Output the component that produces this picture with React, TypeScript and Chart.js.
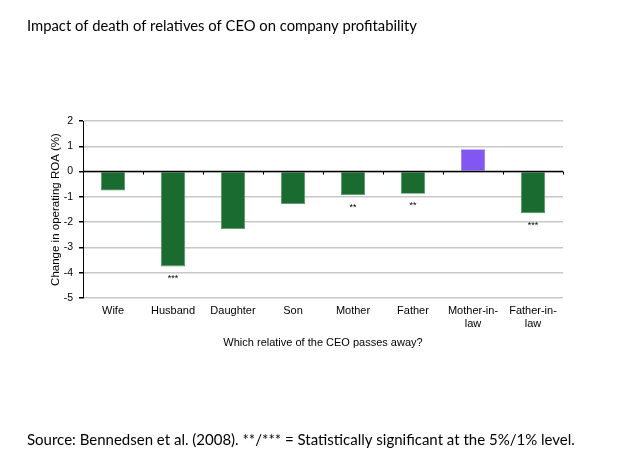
import React, { useEffect, useRef } from "react";
import { Chart, registerables } from "chart.js";

Chart.register(...registerables);

const categories: (string | string[])[] = ["Wife", "Husband", "Daughter", "Son", "Mother", "Father", ["Mother-in-", "law"], ["Father-in-", "law"]];
const roaChange = [-0.75, -3.75, -2.27, -1.28, -0.93, -0.88, 0.88, -1.65];
const significance = ["", "***", "", "", "**", "**", "", "***"];
const barColors = ["#1a6b2f", "#1a6b2f", "#1a6b2f", "#1a6b2f", "#1a6b2f", "#1a6b2f", "#8256f0", "#1a6b2f"];
const yTicks = [2, 1, 0, -1, -2, -3, -4, -5];

const titleText = "Impact of death of relatives of CEO on company profitability";
const sourceText = "Source: Bennedsen et al. (2008). **/*** = Statistically significant at the 5%/1% level.";
const yTitle = "Change in operating ROA (%)";
const xTitle = "Which relative of the CEO passes away?";

const overlayPlugin = {
  id: "overlay",
  afterDatasetsDraw(chart: any) {
    const ctx = chart.ctx;
    const x = chart.scales.x;
    const y = chart.scales.y;
    const area = chart.chartArea;
    const y0 = y.getPixelForValue(0);
    ctx.save();
    // zero line
    ctx.strokeStyle = "#000";
    ctx.lineWidth = 1.5;
    ctx.beginPath();
    ctx.moveTo(area.left, y0);
    ctx.lineTo(area.right, y0);
    ctx.stroke();
    // category boundary ticks
    ctx.lineWidth = 1;
    const n = categories.length;
    const step = x.getPixelForValue(1) - x.getPixelForValue(0);
    for (let i = 0; i < n; i++) {
      const px = Math.round(x.getPixelForValue(i) + step / 2) + 0.5;
      ctx.beginPath();
      ctx.moveTo(px, y0);
      ctx.lineTo(px, y0 + 3);
      ctx.stroke();
    }
    // significance stars
    ctx.fillStyle = "#000";
    ctx.font = "9px 'Liberation Sans', Arial, sans-serif";
    ctx.textAlign = "center";
    ctx.textBaseline = "middle";
    const meta = chart.getDatasetMeta(0);
    significance.forEach((s, i) => {
      if (!s) return;
      const bar = meta.data[i];
      ctx.fillText(s, bar.x, y.getPixelForValue(roaChange[i]) + 12);
    });
    // title and source
    ctx.font = "14.8px Lato, 'Open Sans', sans-serif";
    ctx.textAlign = "left";
    ctx.fillText(titleText, 27, 26);
    ctx.font = "15px Lato, 'Open Sans', sans-serif";
    ctx.fillText(sourceText, 27, 440);
    ctx.restore();
  },
};

export default function App() {
  const ref = useRef<HTMLCanvasElement>(null);
  useEffect(() => {
    if (!ref.current) return;
    const chart = new Chart(ref.current, {
      type: "bar",
      data: {
        labels: categories,
        datasets: [
          {
            data: roaChange,
            backgroundColor: barColors,
            borderColor: barColors.map((c) => (c === "#8256f0" ? "#9a78f5" : "#4f9460")),
            borderWidth: 0.8,
            categoryPercentage: 1,
            barPercentage: 0.4,
          },
        ],
      },
      options: {
        responsive: false,
        animation: false,
        devicePixelRatio: 1,
        layout: { padding: { top: 121, left: 45, right: 63, bottom: 108 } },
        plugins: { legend: { display: false }, tooltip: { enabled: false }, title: { display: false } },
        scales: {
          x: {
            grid: { display: false, drawTicks: false },
            border: { display: false },
            ticks: {
              color: "#000",
              font: { family: "'Liberation Sans', Arial, sans-serif", size: 11, lineHeight: 1.15 },
              maxRotation: 0,
              padding: 7,
            },
            title: {
              display: true,
              text: xTitle,
              color: "#000",
              font: { family: "'Liberation Sans', Arial, sans-serif", size: 11 },
              padding: { top: 5 },
            },
            afterFit(scale: any) {
              scale.height = 56;
            },
          },
          y: {
            min: -5,
            max: 2,
            afterBuildTicks(scale: any) {
              scale.ticks = yTicks.map((v) => ({ value: v }));
            },
            grid: { color: "#c8c8c8", lineWidth: 1.5, tickLength: 4, tickColor: "#000" },
            border: { display: true, color: "#000", width: 1 },
            ticks: {
              color: "#000",
              font: { family: "'Liberation Sans', Arial, sans-serif", size: 10.5 },
              padding: 6,
            },
            title: {
              display: true,
              text: yTitle,
              color: "#000",
              font: { family: "'Liberation Sans', Arial, sans-serif", size: 11.5 },
              padding: { bottom: 4 },
            },
            afterFit(scale: any) {
              scale.width = 38;
            },
          },
        },
      },
      plugins: [overlayPlugin],
    });
    return () => chart.destroy();
  }, []);
  return (
    <div style={{ position: "fixed", left: 0, top: 0, width: 626, height: 462, background: "#fff" }}>
      <canvas ref={ref} width={626} height={462} />
    </div>
  );
}
